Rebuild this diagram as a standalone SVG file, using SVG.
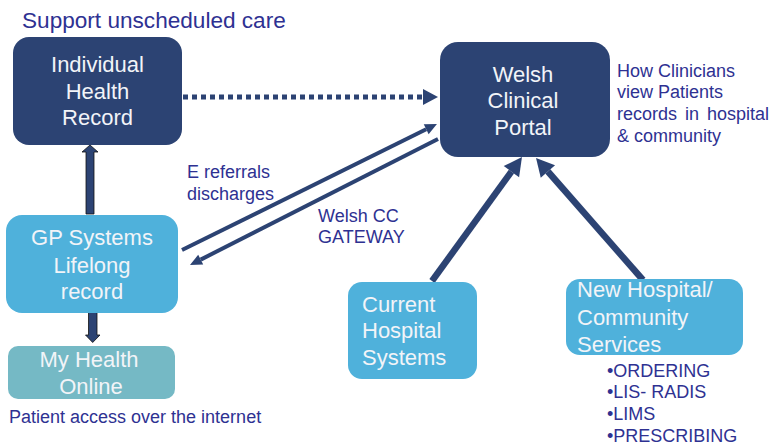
<svg xmlns="http://www.w3.org/2000/svg" width="771" height="445" viewBox="0 0 771 445">
<style>
  .navy{fill:#2c4373}
  .blue{fill:#4fb1db}
  .teal{fill:#75b9c5}
  .nt{font-family:"Liberation Sans",Arial,sans-serif;font-size:22px;fill:#f2f4f8}
  .c{text-anchor:middle}
  .lbl{font-family:"Liberation Sans",Arial,sans-serif;font-size:18px;fill:#2e3192}
  .ttl{font-family:"Liberation Sans",Arial,sans-serif;font-size:22.6px;fill:#2e3192}
  .ln{stroke:#2c4373;fill:none}
</style>
<defs>
  <marker id="ahS" markerUnits="userSpaceOnUse" markerWidth="20" markerHeight="20" refX="0" refY="0" viewBox="-2 -10 16 20" orient="auto" overflow="visible">
    <path d="M0,-5.5 L12,0 L0,5.5 z" fill="#2c4373"/>
  </marker>
  <marker id="ahL" markerUnits="userSpaceOnUse" markerWidth="30" markerHeight="30" refX="0" refY="0" viewBox="-2 -15 24 30" orient="auto" overflow="visible">
    <path d="M0,-9.5 L18,0 L0,9.5 z" fill="#2c4373"/>
  </marker>
</defs>
<rect width="771" height="445" fill="#ffffff"/>
<text class="ttl" x="22" y="28">Support unscheduled care</text>

<g id="connectors">
  <line class="ln" x1="183" y1="97" x2="423" y2="97" stroke-width="5" stroke-dasharray="5 4"/>
  <polygon points="423,89 438,97 423,105" fill="#2c4373"/>
  <polygon points="86,214 94,214 94,152 98,152 90,145 82,152 86,152" fill="#2c4373" stroke="#111" stroke-width="0.8"/>
  <polygon points="88.5,306 97,306 97,335 100,335 92.7,342.5 85.5,335 88.5,335" fill="#2c4373" stroke="#111" stroke-width="0.8"/>
  <line class="ln" x1="182" y1="250" x2="426.2" y2="129.3" stroke-width="4" marker-end="url(#ahS)"/>
  <line class="ln" x1="438" y1="139" x2="200.7" y2="259.6" stroke-width="4" marker-end="url(#ahS)"/>
  <line class="ln" x1="432" y1="281" x2="511.4" y2="171.6" stroke-width="6.5" marker-end="url(#ahL)"/>
  <line class="ln" x1="643" y1="280" x2="547.9" y2="171.5" stroke-width="6.5" marker-end="url(#ahL)"/>
  <text class="lbl" x="187" y="178">E referrals</text>
  <text class="lbl" x="187" y="200">discharges</text>
  <text class="lbl" x="318" y="222">Welsh CC</text>
  <text class="lbl" x="318" y="243">GATEWAY</text>
</g>

<g id="ihr">
  <rect class="navy" x="13" y="37" width="169" height="108" rx="16"/>
  <text class="nt c" x="97.5" y="72">Individual</text>
  <text class="nt c" x="97.5" y="99">Health</text>
  <text class="nt c" x="97.5" y="125">Record</text>
</g>

<g id="wcp">
  <rect class="navy" x="440" y="42" width="170" height="115" rx="18"/>
  <text class="nt c" x="523" y="82">Welsh</text>
  <text class="nt c" x="523" y="108">Clinical</text>
  <text class="nt c" x="523" y="135">Portal</text>
  <text class="lbl" x="617" y="77">How Clinicians</text>
  <text class="lbl" x="617" y="98">view Patients</text>
  <text class="lbl" x="617" y="120" word-spacing="3">records in hospital</text>
  <text class="lbl" x="617" y="142">&amp; community</text>
</g>

<g id="gp">
  <rect class="blue" x="6" y="215" width="172" height="98" rx="16"/>
  <text class="nt c" x="92" y="245">GP Systems</text>
  <text class="nt c" x="92" y="273">Lifelong</text>
  <text class="nt c" x="92" y="299">record</text>
</g>

<g id="mho">
  <rect class="teal" x="8" y="346" width="167" height="53" rx="10"/>
  <text class="nt c" x="89" y="367">My Health</text>
  <text class="nt c" x="91" y="394">Online</text>
  <text class="lbl" x="9" y="423">Patient access over the internet</text>
</g>

<g id="chs">
  <rect class="blue" x="348" y="282" width="129" height="97" rx="14"/>
  <text class="nt" x="362" y="312">Current</text>
  <text class="nt" x="362" y="338">Hospital</text>
  <text class="nt" x="362" y="365">Systems</text>
</g>

<g id="nhcs">
  <rect class="blue" x="566" y="279" width="177" height="76" rx="14"/>
  <text class="nt" x="577" y="297">New Hospital/</text>
  <text class="nt" x="577" y="325">Community</text>
  <text class="nt" x="577" y="352">Services</text>
  <text class="lbl" x="607" y="377">•ORDERING</text>
  <text class="lbl" x="607" y="398">•LIS- RADIS</text>
  <text class="lbl" x="607" y="420">•LIMS</text>
  <text class="lbl" x="607" y="442">•PRESCRIBING</text>
</g>
</svg>
